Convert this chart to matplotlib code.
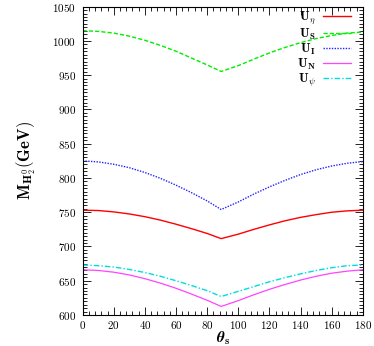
import numpy as np
import matplotlib
matplotlib.use("Agg")
import matplotlib.pyplot as plt
from matplotlib.ticker import MultipleLocator

plt.rcParams['font.family'] = 'cmr10'
plt.rcParams['mathtext.fontset'] = 'cm'
plt.rcParams['axes.formatter.use_mathtext'] = True

# theta_s (deg) and masses (GeV)
theta = [0, 10, 20, 30, 40, 50, 60, 70, 80, 89, 100, 110, 120, 130, 140, 150, 160, 170, 180]
u_eta = [753, 752.5, 750.5, 747.5, 743.5, 738.5, 732.5, 726, 719, 711.5, 718, 725, 731.5, 737.5, 742.5, 746.5, 750, 752, 753]
u_s = [1015, 1014, 1011.5, 1007, 1001, 993.5, 985, 975, 965, 955.5, 964, 973.5, 982.5, 990.5, 997.5, 1003.5, 1008, 1011.5, 1013]
u_i = [825, 823.5, 820, 815, 808, 799.5, 789.5, 778.5, 766.5, 754, 765, 776.5, 787, 796.5, 805, 812, 817.5, 821.5, 824]
u_n = [666, 665, 662.5, 658.5, 653, 646.5, 639, 630.5, 621.5, 612.5, 621, 629.5, 637.5, 644.5, 651, 656.5, 661, 664, 666]
u_psi = [673, 672, 670, 666.5, 662, 656.5, 650, 643, 635.5, 627, 634.5, 641.5, 648.5, 654.5, 660, 665, 669, 672, 673]

fig = plt.figure(figsize=(3.74, 3.46), dpi=100)
ax = fig.add_axes([0.221, 0.0896, 0.749, 0.891])

ax.plot(theta, u_eta, color='#ff0000', lw=1.0, label=r'$\mathbf{U_\eta}$')
ax.plot(theta, u_s, color='#00ee00', lw=1.0, ls=(0, (3, 1.5)), label=r'$\mathbf{U_S}$')
ax.plot(theta, u_i, color='#2222ff', lw=1.0, ls=(0, (1, 1)), label=r'$\mathbf{U_I}$')
ax.plot(theta, u_n, color='#ff44ff', lw=0.9, label=r'$\mathbf{U_N}$')
ax.plot(theta, u_psi, color='#00dddd', lw=1.0, ls=(0, (4, 1.5, 1, 1.5)), label=r'$\mathbf{U_\psi}$')

ax.set_xlim(0, 180)
ax.set_ylim(600, 1050)
ax.xaxis.set_major_locator(MultipleLocator(20))
ax.xaxis.set_minor_locator(MultipleLocator(4))
ax.yaxis.set_major_locator(MultipleLocator(50))
ax.yaxis.set_minor_locator(MultipleLocator(5))
ax.tick_params(which='both', direction='in', top=True, right=True, labelsize=8)
ax.tick_params(axis='x', pad=3)
ax.tick_params(axis='y', pad=5)
ax.tick_params(which='major', length=6, width=0.6)
ax.tick_params(which='minor', length=3, width=0.6)
for s in ax.spines.values():
    s.set_linewidth(0.8)

ax.set_xlabel(r'$\boldsymbol{\theta}_\mathbf{s}$', fontsize=11, labelpad=-1)
ax.set_ylabel(r'$\mathbf{M_{H_2^0}(GeV)}$', fontsize=12, labelpad=10)

leg = ax.legend(loc='upper right', bbox_to_anchor=(0.957, 0.99), frameon=False,
                markerfirst=False, fontsize=9, handlelength=2.2, labelspacing=0.0,
                borderaxespad=0, borderpad=0, handletextpad=0.6)
for t in leg.get_texts():
    t.set_ha('right')

fig.savefig('out.png', dpi=100)
